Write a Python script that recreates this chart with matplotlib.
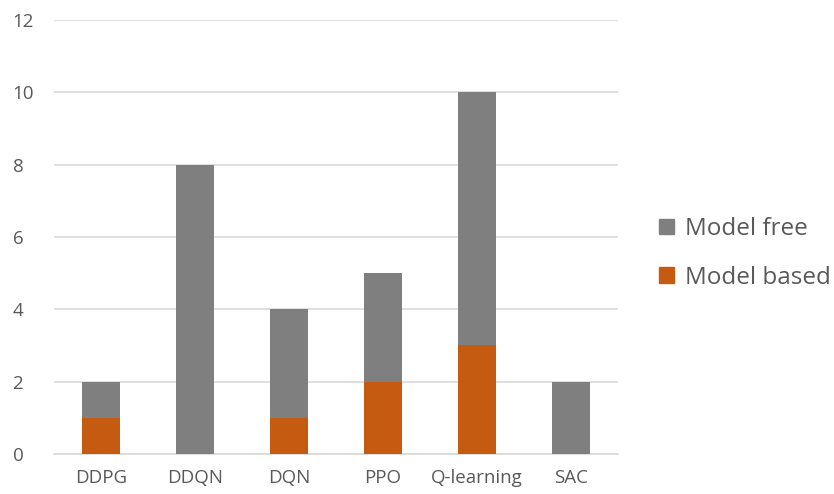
import matplotlib
matplotlib.use("Agg")
import matplotlib.pyplot as plt
from matplotlib.patches import Patch

categories = ["DDPG", "DDQN", "DQN", "PPO", "Q-learning", "SAC"]
model_based = [1, 0, 1, 2, 3, 0]
model_free = [1, 8, 3, 3, 7, 2]
y_ticks = [0, 2, 4, 6, 8, 10, 12]

color_free = "#7f7f7f"
color_based = "#c55a11"
text_color = "#595959"
grid_color = "#d9d9d9"

plt.rcParams["font.family"] = ["Open Sans", "DejaVu Sans"]

fig = plt.figure(figsize=(8.34, 4.94), dpi=100)
ax = fig.add_axes([0.065, 0.081, 0.676, 0.879])

x = range(len(categories))
ax.bar(x, model_based, width=0.4, color=color_based, zorder=3)
ax.bar(x, model_free, width=0.4, bottom=model_based, color=color_free, zorder=3)

ax.set_xlim(-0.5, len(categories) - 0.5)
ax.set_ylim(0, 12)
ax.set_yticks(y_ticks)
ax.set_xticks(list(x))
ax.set_xticklabels(categories)
ax.yaxis.grid(True, color=grid_color, linewidth=1.2, zorder=0)
ax.set_axisbelow(True)
for side in ["top", "right", "left"]:
    ax.spines[side].set_visible(False)
ax.spines["bottom"].set_color(grid_color)
ax.spines["bottom"].set_linewidth(1.2)
ax.tick_params(axis="both", length=0, colors=text_color, labelsize=13.5)
ax.tick_params(axis="x", pad=11)
ax.tick_params(axis="y", pad=30)
for lbl in ax.get_yticklabels():
    lbl.set_horizontalalignment("left")

handles = [Patch(color=color_free, label="Model free"),
           Patch(color=color_based, label="Model based")]
leg = fig.legend(handles=handles, loc="center left", bbox_to_anchor=(0.764, 0.487),
                 frameon=False, fontsize=17.5, handlelength=0.6, handleheight=0.6,
                 handletextpad=0.45, labelspacing=1.0)
for t in leg.get_texts():
    t.set_color(text_color)

fig.savefig("out.png", dpi=100)
